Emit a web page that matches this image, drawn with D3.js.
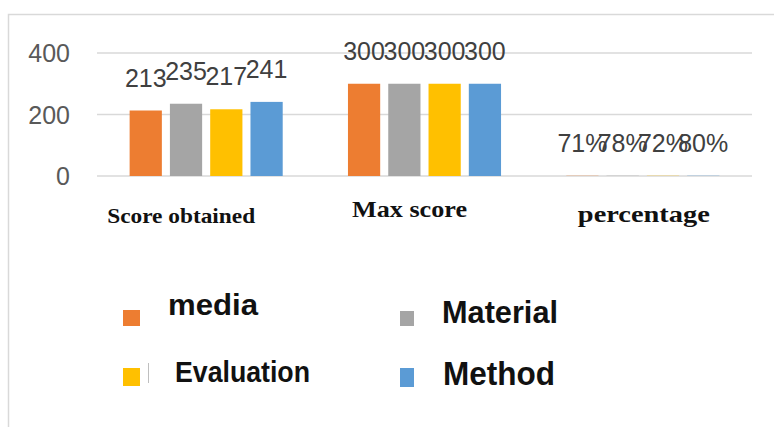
<!DOCTYPE html>
<html>
<head>
<meta charset="utf-8">
<script src="https://cdnjs.cloudflare.com/ajax/libs/d3/7.8.5/d3.min.js"></script>
<style>
body { margin: 0; background: #fff; }
svg { display: block; }
</style>
</head>
<body>
<div id="chart"></div>
<script>
/* data */
var categories = ["Score obtained", "Max score", "percentage"];
var series = ["media", "Material", "Evaluation", "Method"];
var colors = ["#ED7D31", "#A5A5A5", "#FFC000", "#5B9BD5"];
var scoreObtained = [213, 235, 217, 241];
var maxScore = [300, 300, 300, 300];
var percentage = [0.71, 0.78, 0.72, 0.80];
var percentLabels = ["71%", "78%", "72%", "80%"];
var yTicks = [0, 200, 400];

var w = 774, h = 427;

var svg = d3.select("#chart").append("svg").attr("width", w).attr("height", h);

/* chart frame (only left and top edges show) */
svg.append("rect")
	.attr("x", 8.5).attr("y", 14.5)
	.attr("width", 900).attr("height", 600)
	.attr("fill", "none")
	.attr("stroke", "#d9d9d9")
	.attr("stroke-width", 1.5);

var x = d3.scaleBand().domain(categories).range([97, 752]);
var xInner = d3.scaleBand().domain(series).range([0, x.bandwidth()])
	.paddingInner(0.2).paddingOuter(0.81);
var y = d3.scaleLinear().domain([0, 400]).range([176, 53]);

/* gridlines */
svg.append("g").selectAll("line").data(yTicks).enter()
	.append("line")
	.attr("x1", 97).attr("x2", 752)
	.attr("y1", function (d) { return y(d); })
	.attr("y2", function (d) { return y(d); })
	.attr("stroke", "#d9d9d9")
	.attr("stroke-width", 1.5);

/* y tick labels */
svg.append("g").selectAll("text").data(yTicks).enter()
	.append("text")
	.attr("x", 70)
	.attr("y", function (d) { return y(d); })
	.attr("dy", "0.36em")
	.attr("text-anchor", "end")
	.style("font-family", "'Liberation Sans', Arial, sans-serif")
	.style("font-size", "25px")
	.attr("fill", "#595959")
	.text(function (d) { return d; });

var values = [scoreObtained, maxScore, percentage];
var labels = [
	scoreObtained.map(String),
	maxScore.map(String),
	percentLabels
];

var rows = [];
categories.forEach(function (c, ci) {
	series.forEach(function (s, si) {
		rows.push({ cat: c, ser: s, color: colors[si], v: values[ci][si], label: labels[ci][si] });
	});
});

var groups = svg.append("g");

groups.selectAll("rect").data(rows).enter()
	.append("rect")
	.attr("x", function (d) { return x(d.cat) + xInner(d.ser); })
	.attr("width", xInner.bandwidth())
	.attr("y", function (d) { return y(d.v); })
	.attr("height", function (d) { return y(0) - y(d.v); })
	.attr("fill", function (d) { return d.color; });

groups.selectAll("text").data(rows).enter()
	.append("text")
	.attr("x", function (d) { return x(d.cat) + xInner(d.ser) + xInner.bandwidth() / 2; })
	.attr("y", function (d) { return y(d.v) - 24; })
	.attr("text-anchor", "middle")
	.style("font-family", "'Liberation Sans', Arial, sans-serif")
	.style("font-size", "25px")
	.attr("fill", "#404040")
	.text(function (d) { return d.label; });

/* category labels, each sits a bit off its band centre like the original */
var catLook = [
	{ dx: -25, base: 223, size: 21, len: 148 },
	{ dx: -15, base: 217, size: 23, len: 115 },
	{ dx: 1, base: 222, size: 23, len: 132 }
];
svg.append("g").selectAll("text").data(categories).enter()
	.append("text")
	.attr("x", function (d, i) { return x(d) + x.bandwidth() / 2 + catLook[i].dx - catLook[i].len / 2; })
	.attr("y", function (d, i) { return catLook[i].base; })
	.attr("textLength", function (d, i) { return catLook[i].len; })
	.attr("lengthAdjust", "spacingAndGlyphs")
	.style("font-family", "'Liberation Serif', 'Times New Roman', serif")
	.style("font-weight", "bold")
	.style("font-size", function (d, i) { return catLook[i].size + "px"; })
	.attr("fill", "#111")
	.text(function (d) { return d; });

/* legend: 2 x 2 */
var legLook = [
	{ sx: 123, sy: 310, sw: 17, sh: 16, tx: 168, ty: 315, size: 30, len: 90 },
	{ sx: 400, sy: 311, sw: 14, sh: 15, tx: 442, ty: 323, size: 32, len: 116 },
	{ sx: 123, sy: 368, sw: 17, sh: 18, tx: 175, ty: 382, size: 29, len: 135 },
	{ sx: 400, sy: 368, sw: 14, sh: 19, tx: 443, ty: 385, size: 33, len: 112 }
];
var leg = svg.append("g").selectAll("g").data(series).enter().append("g");
leg.append("rect")
	.attr("x", function (d, i) { return legLook[i].sx; })
	.attr("y", function (d, i) { return legLook[i].sy; })
	.attr("width", function (d, i) { return legLook[i].sw; })
	.attr("height", function (d, i) { return legLook[i].sh; })
	.attr("fill", function (d, i) { return colors[i]; });
leg.append("text")
	.attr("x", function (d, i) { return legLook[i].tx; })
	.attr("y", function (d, i) { return legLook[i].ty; })
	.attr("textLength", function (d, i) { return legLook[i].len; })
	.attr("lengthAdjust", "spacingAndGlyphs")
	.style("font-family", "'Liberation Sans', Arial, sans-serif")
	.style("font-weight", "bold")
	.style("font-size", function (d, i) { return legLook[i].size + "px"; })
	.attr("fill", "#111")
	.text(function (d) { return d; });

/* stray cursor mark next to the Evaluation key */
svg.append("line")
	.attr("x1", 148.5).attr("x2", 148.5)
	.attr("y1", 363).attr("y2", 383)
	.attr("stroke", "#bfbfbf")
	.attr("stroke-width", 1);
</script>
</body>
</html>
